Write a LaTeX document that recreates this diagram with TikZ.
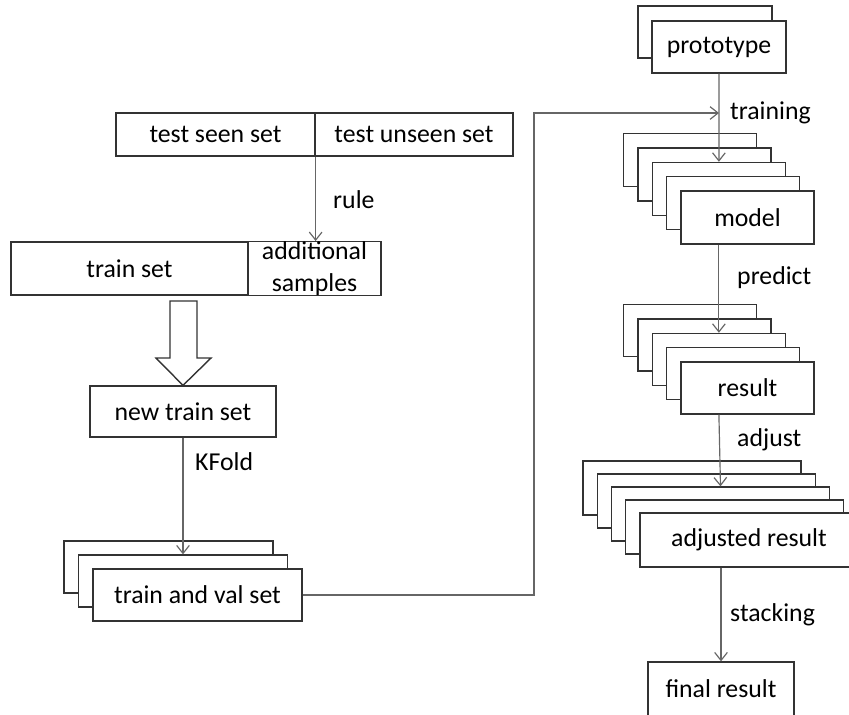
\documentclass[tikz,border=0pt]{standalone}
\usepackage{fontspec}
\setmainfont{Carlito}
\usetikzlibrary{arrows.meta,calc}

\tikzset{
  box/.style={draw=black!80, fill=white, line width=1.1pt, inner sep=0pt, align=center,
    font=\fontsize{22}{27}\selectfont},
  flow/.style={draw=black!60, line width=1pt, -{Straight Barb[length=2.4mm,width=3.8mm]}},
  hollow/.style={draw=black!80, line width=1.2pt, fill=white, line join=miter},
  lbl/.style={anchor=west, inner sep=0pt, font=\fontsize{22}{27}\selectfont}
}

\begin{document}
\begin{tikzpicture}[x=0.03cm,y=-0.03cm]
\useasboundingbox (0,0) rectangle (849,714);
\clip (0,0) rectangle (849,714);

% left column
\node[box,minimum width=5.97cm,minimum height=1.29cm] (seen) at (215.5,134.5) {test seen set};
\node[box,minimum width=5.94cm,minimum height=1.29cm] (unseen) at (414,134.5) {test unseen set};

\node[box,minimum width=7.11cm,minimum height=1.59cm] (train) at (129.5,268.5) {train set};
\node[box,minimum width=3.99cm,minimum height=1.59cm] (extra) at (314.5,268.5) {additional\\samples};

\draw[flow] (seen.south east) -- (seen.south east |- extra.north);
\node[lbl] (rulelbl) at (333,200) {rule};

\node[box,minimum width=5.58cm,minimum height=1.53cm] (newtrain) at (183,411.5) {new train set};
\draw[hollow] (170,301) -- (197,301) -- (197,358) -- (211,358) -- (newtrain.north)
  -- (156,358) -- (170,358) -- cycle;

\foreach \k in {0,1}
  \node[box,minimum width=6.27cm,minimum height=1.56cm] (tv\k) at ({197.5-(2-\k)*14.5},{595-(2-\k)*14}) {};
\node[box,minimum width=6.27cm,minimum height=1.56cm] (tv2) at (197.5,595) {train and val set};

\draw[flow] (newtrain.south) -- (tv1.north);
\node[lbl] (kfoldlbl) at (195,462) {KFold};

% right column
\node[box,minimum width=4.02cm,minimum height=1.56cm] (proto0) at (705,32) {};
\node[box,minimum width=4.02cm,minimum height=1.56cm] (proto1) at (719,47) {prototype};

\foreach \k in {0,...,3}
  \node[box,minimum width=3.99cm,minimum height=1.59cm] (model\k) at ({747.5-(4-\k)*14.3},{217.5-(4-\k)*14.3}) {};
\node[box,minimum width=3.99cm,minimum height=1.59cm] (model4) at (747.5,217.5) {model};

\foreach \k in {0,...,3}
  \node[box,minimum width=3.99cm,minimum height=1.56cm] (result\k) at ({747.5-(4-\k)*14.3},{388-(4-\k)*14.3}) {};
\node[box,minimum width=3.99cm,minimum height=1.56cm] (result4) at (747.5,388) {result};

\foreach \k in {0,...,3}
  \node[box,minimum width=6.54cm,minimum height=1.62cm] (adj\k) at ({749-(4-\k)*14.25},{540-(4-\k)*13}) {};
\node[box,minimum width=6.54cm,minimum height=1.62cm] (adj4) at (749,540) {adjusted result};

\node[box,minimum width=4.38cm,minimum height=1.62cm] (final) at (721,689) {final result};

% connectors
\coordinate (bend) at (534,113);
\coordinate (join) at (proto1.south |- bend);
\draw[flow] (tv2.east) -| (bend) -- (join);
\draw[flow] (proto1.south) -- (model2.north);
\node[lbl] (traininglbl) at (730,113) {training};

\draw[flow] (model2.south |- model4.south) -- (result2.north);
\node[lbl] (predictlbl) at (737,278) {predict};

\draw[flow] (result2.south |- result4.south) -- (adj2.north);
\node[lbl] (adjustlbl) at (737,440) {adjust};

\draw[flow] (final.north |- adj4.south) -- (final.north);
\node[lbl] (stackinglbl) at (730,615) {stacking};

\end{tikzpicture}
\end{document}
